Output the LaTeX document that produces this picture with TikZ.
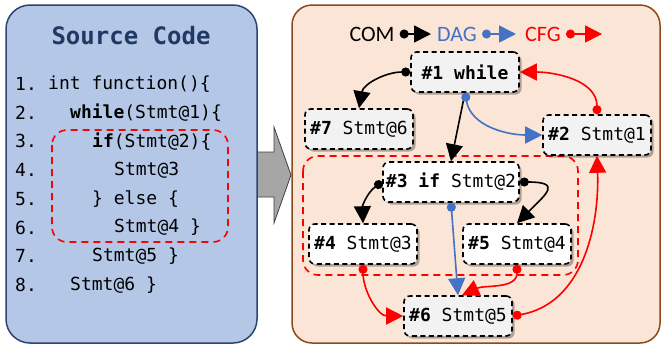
\documentclass[tikz,border=0pt]{standalone}
\usepackage{fontspec}
\usetikzlibrary{arrows.meta,shadows}
\newfontfamily\codefont{DejaVu Sans Mono}
\newfontfamily\legendfont{Carlito}
\definecolor{leftblue}{HTML}{B4C7E7}
\definecolor{leftedge}{HTML}{2E4470}
\definecolor{rightpeach}{HTML}{FBE5D6}
\definecolor{rightedge}{HTML}{8B4A1C}
\definecolor{titleblue}{HTML}{1F3864}
\definecolor{dagblue}{HTML}{4472C4}
\definecolor{cfgred}{HTML}{FF0000}
\tikzset{
  stmt/.style={draw, line width=1.6pt, dash pattern=on 5pt off 3.5pt, rounded corners=6pt,
    fill=gray!10, minimum width=108pt, minimum height=40pt, inner xsep=3pt,
    font=\codefont\fontsize{18}{20}\selectfont,
    drop shadow={shadow xshift=2.5pt, shadow yshift=-2.5pt, fill=black, opacity=0.3}},
  stmtw/.style={stmt, fill=white},
  codeline/.style={anchor=west, inner sep=0pt, font=\codefont\fontsize{18}{20}\selectfont},
  legend/.style={font=\legendfont\fontsize{22}{24}\selectfont, inner sep=0pt},
  region/.style={draw=cfgred, line width=1.6pt, dash pattern=on 7pt off 5pt, rounded corners=15pt},
  tipend/.tip={Triangle[length=17pt,width=17pt]},
  tipdot/.tip={Circle[length=9pt]},
  com/.style={line width=1.6pt, black, tipdot-tipend},
  dag/.style={com, dagblue},
  cfg/.style={com, cfgred}
}
\begin{document}
\begin{tikzpicture}[x=1pt,y=-1pt]
    \useasboundingbox (0,0) rectangle (664,349);

    % Block arrow between the panels
    \draw[line width=0.8pt, draw=black!75, fill=black!35]
    (255,152) -- (274,152) -- (274,127) -- (291,175) -- (274,223) -- (274,197) -- (255,197) -- cycle;

    % Source code panel
    \draw[line width=1.5pt, draw=leftedge, fill=leftblue, rounded corners=24pt]
    (6,5) rectangle (257,343);
    \node[font=\codefont\bfseries\fontsize{24}{28}\selectfont, text=titleblue] (title) at (131,36) {Source Code};

    \foreach \n/\x/\txt in {1/48/{int function()\{}, 2/70/{\textbf{while}(Stmt@1)\{},
        3/92/{\textbf{if}(Stmt@2)\{}, 4/114/{Stmt@3}, 5/92/{\} else \{},
        6/114/{Stmt@4 \}}, 7/92/{Stmt@5 \}}, 8/70/{Stmt@6 \}}}
    {
        \node[codeline] (num\n) at (15,{55.3+28.7*\n}) {\n.};
        \node[codeline] (line\n) at (\x,{55.3+28.7*\n}) {\txt};
    }
    \draw[region] (52,130) rectangle (228,242);

    % Graph panel
    \draw[line width=1.5pt, draw=rightedge, fill=rightpeach, rounded corners=20pt]
    (292,5) rectangle (660,343);
    \draw[region] (303,156) rectangle (578,275);

    % Legend
    \node[legend] (lcom) at (372,34) {COM};
    \node[legend, text=dagblue] (ldag) at (457,34) {DAG};
    \node[legend, text=cfgred] (lcfg) at (543,34) {CFG};
    \coordinate (lcomend) at (431,34);
    \coordinate (ldagend) at (516,34);
    \coordinate (lcfgend) at (602,34);
    \draw[com] ([xshift=5pt]lcom.east) -- (lcomend);
    \draw[dag] ([xshift=5pt]ldag.east) -- (ldagend);
    \draw[cfg] ([xshift=5pt]lcfg.east) -- (lcfgend);

    % Statement nodes
    \node[stmt] (n1) at (465,72) {\textbf{\#1 while}};
    \node[stmt] (n7) at (359,129) {\textbf{\#7} Stmt@6};
    \node[stmt] (n2) at (597,135) {\textbf{\#2} Stmt@1};
    \node[stmtw] (n3) at (451,182) {\textbf{\#3 if} Stmt@2};
    \node[stmtw] (n4) at (363,244) {\textbf{\#4} Stmt@3};
    \node[stmtw] (n5) at (517,244) {\textbf{\#5} Stmt@4};
    \node[stmt] (n6) at (458,316) {\textbf{\#6} Stmt@5};

    % Edges
    \draw[com] (n1.west) to[out=180,in=80] (n7.north);
    \draw[com, -tipend] (n1.south) -- (n3.north);
    \draw[dag] (n1.south) to[out=-80,in=180] (n2.west);
    \draw[cfg] (n2.north) to[out=90,in=0] (n1.east);
    \draw[com] (n3.west) to[out=215,in=92] (n4.north);
    \draw[com] (n3.east) to[out=0,in=45,looseness=2.6] (n5.north);
    \draw[dag] (n3.south) -- (n6.north);
    \draw[cfg] (n4.south) to[out=-90,in=180] (n6.west);
    \draw[cfg] (n5.south) to[out=-90,in=25] ([xshift=4pt]n6.north);
    \draw[cfg] (n6.east) to[out=10,in=-88] (n2.south);
\end{tikzpicture}
\end{document}
